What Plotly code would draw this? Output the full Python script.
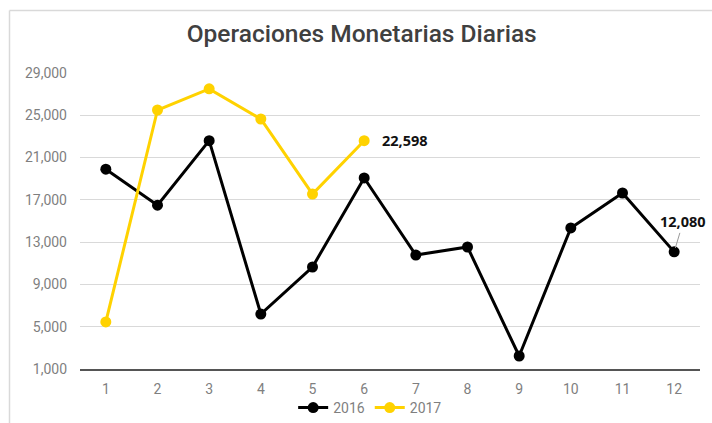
import plotly.graph_objects as go

months = [1, 2, 3, 4, 5, 6, 7, 8, 9, 10, 11, 12]
tick_labels = [str(m) for m in months]
ops_2016 = [19900, 16500, 22600, 6200, 10650, 19070, 11780, 12540, 2230, 14340, 17650, 12080]
months_2017 = [1, 2, 3, 4, 5, 6]
ops_2017 = [5450, 25500, 27500, 24650, 17550, 22598]
y_ticks = [1000, 5000, 9000, 13000, 17000, 21000, 25000, 29000]

FONT = "Roboto, sans-serif"

fig = go.Figure()
fig.add_trace(go.Scatter(
    x=months, y=ops_2016, mode="lines+markers", name="2016",
    line=dict(color="#000000", width=3), marker=dict(size=11, color="#000000"),
))
fig.add_trace(go.Scatter(
    x=months_2017, y=ops_2017, mode="lines+markers", name="2017",
    line=dict(color="#FFD200", width=3), marker=dict(size=11, color="#FFD200"),
))

fig.add_annotation(x=months_2017[-1], y=ops_2017[-1], text=f"{ops_2017[-1]:,}",
                   showarrow=False, xanchor="left", xshift=16,
                   font=dict(family="Open Sans, sans-serif", size=14.5, color="#111111", weight="bold"))
fig.add_annotation(x=months[-1], y=ops_2016[-1], text=f"{ops_2016[-1]:,}",
                   showarrow=True, arrowhead=0, arrowwidth=1, arrowcolor="#999999",
                   ax=9, ay=-30, standoff=4,
                   font=dict(family="Open Sans, sans-serif", size=14.5, color="#111111", weight="bold"))

fig.update_layout(
    width=712, height=423,
    margin=dict(l=80, r=12, t=73, b=54, autoexpand=False),
    paper_bgcolor="white", plot_bgcolor="white",
    title=dict(text="Operaciones Monetarias Diarias", x=0.508, xanchor="center",
               y=1 - 33/423, yanchor="middle",
               font=dict(family=FONT, size=24.5, color="#404040", weight=500)),
    showlegend=True,
    legend=dict(orientation="h", x=0.468, xanchor="center", yref="container",
                y=1 - 408/423, yanchor="middle",
                font=dict(family=FONT, size=14, color="#7f7f7f"), itemwidth=30,
                bgcolor="rgba(0,0,0,0)"),
    xaxis=dict(range=[0.5, 12.5], tickmode="array", tickvals=months, ticktext=tick_labels,
               showgrid=False, showline=True, linecolor="#555555", linewidth=2,
               ticks="", tickfont=dict(family=FONT, size=14, color="#7f7f7f"),
               zeroline=False, ticklabelstandoff=6),
    yaxis=dict(range=[1000, 29000], tickvals=y_ticks, tickformat=",d",
               showgrid=True, gridcolor="#d9d9d9", gridwidth=1, zeroline=False,
               showline=False, ticks="", tickfont=dict(family=FONT, size=14, color="#7f7f7f"),
               ticklabelstandoff=12),
    shapes=[
        dict(type="line", xref="paper", yref="paper", x0=-(80-9.5)/620, x1=(712-80)/620,
             y0=1 + (73-10.5)/296, y1=1 + (73-10.5)/296, line=dict(color="#d9d9d9", width=1.5)),
        dict(type="line", xref="paper", yref="paper", x0=-(80-9.5)/620, x1=-(80-9.5)/620,
             y0=1 + (73-10.5)/296, y1=-(423-369)/296, line=dict(color="#d9d9d9", width=1.5)),
    ],
)

fig.write_html("out.html")
